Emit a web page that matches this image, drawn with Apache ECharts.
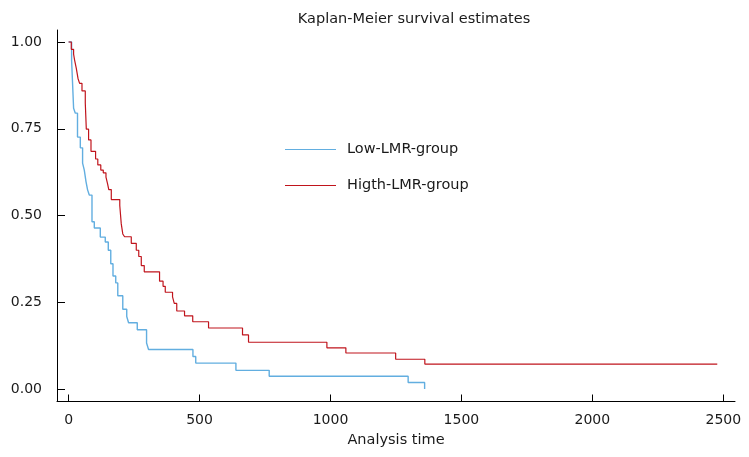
<!DOCTYPE html>
<html>
<head>
<meta charset="utf-8">
<script src="https://cdn.jsdelivr.net/npm/echarts@6/dist/echarts.min.js"></script>
<style>
html,body{margin:0;padding:0;background:#fff;}
#chart{width:749px;height:457px;}
</style>
</head>
<body>
<div id="chart"></div>
<script>
// Kaplan-Meier step data: [time of drop, survival after drop]
var lowTimes = [0, 11.5, 19.1, 25.6, 34.0, 44.7, 53.4, 59.9, 66.4, 72.5, 79.0, 89.3, 98.1, 121, 140, 151.5, 161, 169.5, 180, 187.8, 206.9, 222, 229, 262.2, 297.7, 305.3, 474.8, 485.5, 638.9, 766, 1296.6, 1359.5];
var lowSurv  = [1.0, 0.947, 0.809, 0.795, 0.726, 0.695, 0.651, 0.631, 0.598, 0.574, 0.559, 0.482, 0.464, 0.438, 0.424, 0.400, 0.361, 0.326, 0.306, 0.269, 0.230, 0.209, 0.191, 0.171, 0.133, 0.114, 0.094, 0.075, 0.054, 0.037, 0.019, 0.0];

var highTimes = [0, 10.3, 19.1, 22.9, 29.4, 35.9, 42.0, 51.1, 63.7, 67.6, 76.3, 85.5, 103, 111.5, 122.9, 132.4, 142.7, 148.9, 153.4, 163, 195.4, 201.1, 206.9, 213.7, 239.3, 258.4, 267.9, 277.5, 288.9, 347.3, 360.7, 369.1, 396.9, 403.4, 413, 442.7, 474, 534.4, 664.1, 687, 986.3, 1058.8, 1248.9, 1360.3, 2477];
var highSurv  = [1.0, 0.979, 0.965, 0.948, 0.924, 0.895, 0.881, 0.859, 0.824, 0.749, 0.718, 0.685, 0.663, 0.646, 0.631, 0.623, 0.611, 0.591, 0.575, 0.546, 0.529, 0.476, 0.447, 0.439, 0.420, 0.400, 0.382, 0.356, 0.338, 0.311, 0.296, 0.279, 0.266, 0.247, 0.225, 0.211, 0.194, 0.176, 0.156, 0.135, 0.119, 0.104, 0.086, 0.072, 0.072];

var xTicks = [0, 500, 1000, 1500, 2000, 2500];
var yTicks = [0, 0.25, 0.5, 0.75, 1.0];

var seriesNames = ['Low-LMR-group', 'Higth-LMR-group'];
var titleText = 'Kaplan-Meier survival estimates';
var xName = 'Analysis time';

function zip(a, b) { return a.map(function (v, i) { return [v, b[i]]; }); }

var FONT = 'DejaVu Sans';
var TXT = '#1a1a1a';
var chart = echarts.init(document.getElementById('chart'), null, {renderer: 'canvas'});
chart.setOption({
  animation: false,
  backgroundColor: '#ffffff',
  title: {
    text: titleText,
    left: 409, top: 7, textAlign: 'center',
    textStyle: {fontFamily: FONT, fontSize: 14.5, fontWeight: 'normal', color: TXT}
  },
  legend: {
    orient: 'vertical',
    left: 280, top: 137,
    icon: 'rect',
    itemWidth: 51, itemHeight: 1.2, itemGap: 21,
    textStyle: {fontFamily: FONT, fontSize: 14.5, color: TXT, padding: [0, 0, 0, 6]},
    data: seriesNames
  },
  grid: {left: 57, right: 14, top: 30, bottom: 55.5, containLabel: false},
  xAxis: {
    type: 'value', min: -44.3, max: 2544.7,
    name: xName, nameLocation: 'middle', nameGap: 31,
    nameTextStyle: {fontFamily: FONT, fontSize: 14.5, color: TXT},
    axisLine: {show: true, onZero: false, lineStyle: {color: '#000', width: 1}},
    axisTick: {show: true, inside: true, length: 7, customValues: xTicks, lineStyle: {color: '#000'}},
    axisLabel: {customValues: xTicks, margin: 12, fontFamily: FONT, fontSize: 14, color: TXT,
      formatter: function (v) { return String(v); }},
    splitLine: {show: false}
  },
  yAxis: {
    type: 'value', min: -0.0357, max: 1.0346,
    axisLine: {show: true, onZero: false, lineStyle: {color: '#000', width: 1}},
    axisTick: {show: true, inside: true, length: 8, customValues: yTicks, lineStyle: {color: '#000'}},
    axisLabel: {customValues: yTicks, margin: 15, fontFamily: FONT, fontSize: 14, color: TXT,
      formatter: function (v) { return v.toFixed(2); }},
    splitLine: {show: false}
  },
  series: [
    {name: seriesNames[0], type: 'line', step: 'end', symbol: 'none',
     color: '#62aee0', lineStyle: {color: '#62aee0', width: 1.4}, data: zip(lowTimes, lowSurv)},
    {name: seriesNames[1], type: 'line', step: 'end', symbol: 'none',
     color: '#c0141c', lineStyle: {color: '#c0141c', width: 1.2}, data: zip(highTimes, highSurv)}
  ]
});
</script>
</body>
</html>
